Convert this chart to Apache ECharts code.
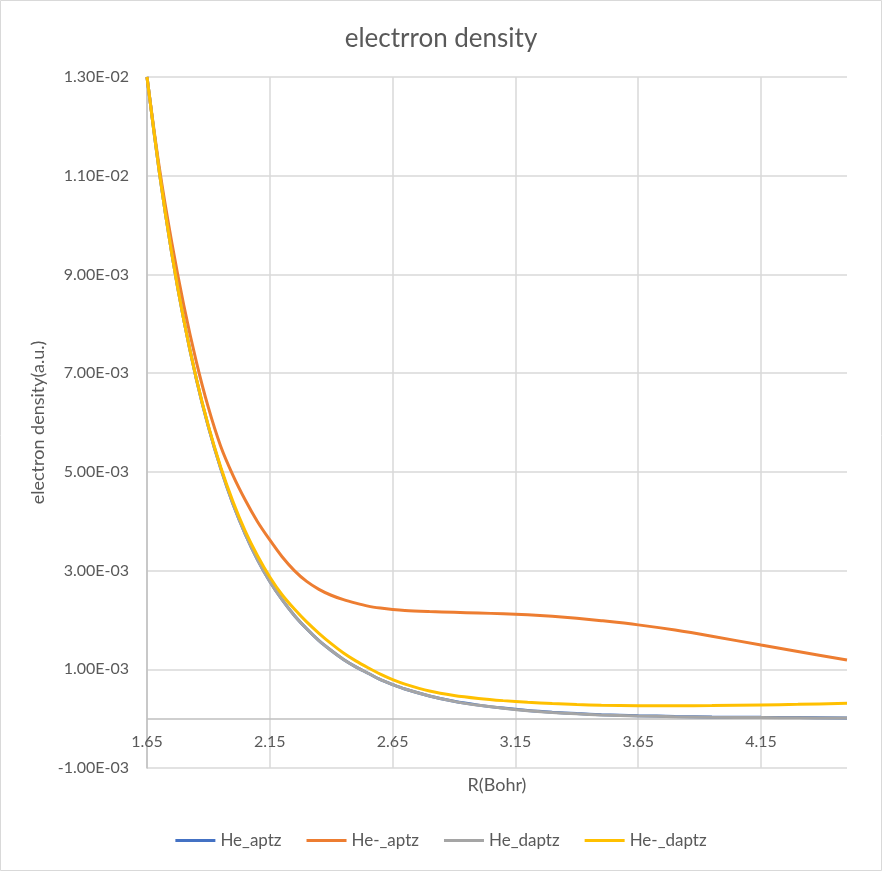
<!DOCTYPE html>
<html>
<head>
<meta charset="utf-8">
<script src="https://cdn.jsdelivr.net/npm/echarts@6/dist/echarts.min.js"></script>
<style>
html,body{margin:0;padding:0;background:#fff;}
#chart{width:882px;height:871px;}
</style>
</head>
<body>
<div id="chart"></div>
<script>
// R (Bohr) sample points
const R = [1.65,1.70,1.75,1.80,1.85,1.90,1.95,2.00,2.05,2.10,2.15,2.20,2.25,2.30,2.35,2.40,2.45,2.50,2.55,2.60,2.65,2.70,2.80,2.90,3.00,3.10,3.20,3.30,3.40,3.50,3.65,3.80,3.95,4.15,4.30,4.50];
// electron density values in units of 1e-3 a.u.
const He_aptz      = [13.0,11.08,9.45,8.07,6.90,5.91,5.07,4.35,3.74,3.22,2.78,2.41,2.09,1.82,1.58,1.38,1.20,1.05,0.92,0.79,0.69,0.60,0.46,0.352,0.274,0.214,0.166,0.13,0.102,0.081,0.059,0.045,0.035,0.026,0.021,0.015];
const HeMinus_aptz = [13.0,11.17,9.67,8.37,7.25,6.30,5.52,4.93,4.43,3.99,3.62,3.28,3.00,2.78,2.62,2.50,2.41,2.34,2.28,2.24,2.21,2.19,2.17,2.155,2.14,2.125,2.105,2.075,2.035,1.985,1.90,1.795,1.67,1.49,1.36,1.19];
const He_daptz     = [13.0,11.08,9.45,8.07,6.90,5.91,5.07,4.35,3.74,3.22,2.78,2.41,2.09,1.82,1.58,1.38,1.20,1.05,0.92,0.79,0.69,0.60,0.46,0.35,0.27,0.21,0.16,0.125,0.097,0.076,0.054,0.04,0.03,0.022,0.017,0.012];
const HeMinus_daptz= [13.0,11.08,9.45,8.07,6.91,5.93,5.10,4.40,3.80,3.30,2.87,2.51,2.22,1.96,1.73,1.52,1.33,1.17,1.03,0.90,0.79,0.70,0.56,0.47,0.41,0.365,0.33,0.305,0.285,0.272,0.262,0.26,0.265,0.278,0.29,0.31];
const seriesNames = ['He_aptz','He-_aptz','He_daptz','He-_daptz'];
const seriesColors = ['#4472C4','#ED7D31','#A5A5A5','#FFC000'];
const yTickMin = -0.001, yTickMax = 0.013, yTickStep = 0.002;
const xTickMin = 1.65, xTickMax = 4.5, xTickStep = 0.5;

const FONT = 'Lato, "Liberation Sans", sans-serif';
const pairs = (vals) => R.map((r, i) => [r, vals[i] * 1e-3]);
const allVals = [He_aptz, HeMinus_aptz, He_daptz, HeMinus_daptz];

function fmtE(v) {
  const s = Math.abs(v).toExponential(2);
  const parts = s.split('e');
  let exp = parseInt(parts[1], 10);
  const sign = exp < 0 ? '-' : '+';
  exp = Math.abs(exp);
  return (v < 0 ? '-' : '') + parts[0] + 'E' + sign + (exp < 10 ? '0' + exp : exp);
}

const chart = echarts.init(document.getElementById('chart'), null, {renderer: 'canvas'});
chart.setOption({
  backgroundColor: '#fff',
  animation: false,
  title: {
    text: 'electrron density',
    left: 'center',
    top: 21,
    textStyle: {fontFamily: FONT, fontSize: 26, fontWeight: 'normal', color: '#595959'}
  },
  legend: {
    data: seriesNames,
    bottom: 17,
    left: 'center',
    icon: 'rect',
    itemWidth: 40,
    itemHeight: 3,
    itemGap: 25,
    textStyle: {fontFamily: FONT, fontSize: 17, color: '#595959'}
  },
  graphic: [{
    type: 'rect',
    shape: {x: 0.5, y: 0.5, width: 881, height: 870},
    style: {fill: 'none', stroke: '#D9D9D9', lineWidth: 1},
    silent: true, z: -10
  }],
  grid: {left: 147, right: 35, top: 77, bottom: 103, containLabel: false},
  xAxis: {
    type: 'value',
    min: xTickMin, max: xTickMax, interval: xTickStep,
    name: 'R(Bohr)',
    nameLocation: 'middle',
    nameGap: 8,
    nameTextStyle: {fontFamily: FONT, fontSize: 18, color: '#595959', verticalAlign: 'top'},
    axisLine: {show: false, onZero: false},
    axisTick: {show: false},
    axisLabel: {
      fontFamily: FONT, fontSize: 16, color: '#595959', margin: -34,
      showMaxLabel: false,
      formatter: (v) => v.toFixed(2)
    },
    splitLine: {show: true, showMaxLine: false, lineStyle: {color: '#D9D9D9', width: 1.5}}
  },
  yAxis: {
    type: 'value',
    min: yTickMin, max: yTickMax, interval: yTickStep,
    name: 'electron density(a.u.)',
    nameLocation: 'middle',
    nameGap: 97,
    nameTextStyle: {fontFamily: FONT, fontSize: 18, color: '#595959'},
    axisLine: {show: true, onZero: false, lineStyle: {color: '#BFBFBF', width: 1.5}},
    axisTick: {show: false},
    axisLabel: {fontFamily: FONT, fontSize: 16, color: '#595959', margin: 18, formatter: fmtE},
    splitLine: {show: true, lineStyle: {color: '#D9D9D9', width: 1.5}}
  },
  series: seriesNames.map((name, i) => ({
    name: name,
    type: 'line',
    data: pairs(allVals[i]),
    smooth: 0.3,
    symbol: 'none',
    showSymbol: false,
    lineStyle: {color: seriesColors[i], width: 3},
    itemStyle: {color: seriesColors[i]},
    z: 2 + i,
    markLine: i === 0 ? {
      silent: true,
      symbol: ['none', 'none'],
      label: {show: false},
      lineStyle: {color: '#BFBFBF', width: 1.5, type: 'solid'},
      data: [{yAxis: 0}],
      z: 1
    } : undefined
  }))
});
</script>
</body>
</html>
